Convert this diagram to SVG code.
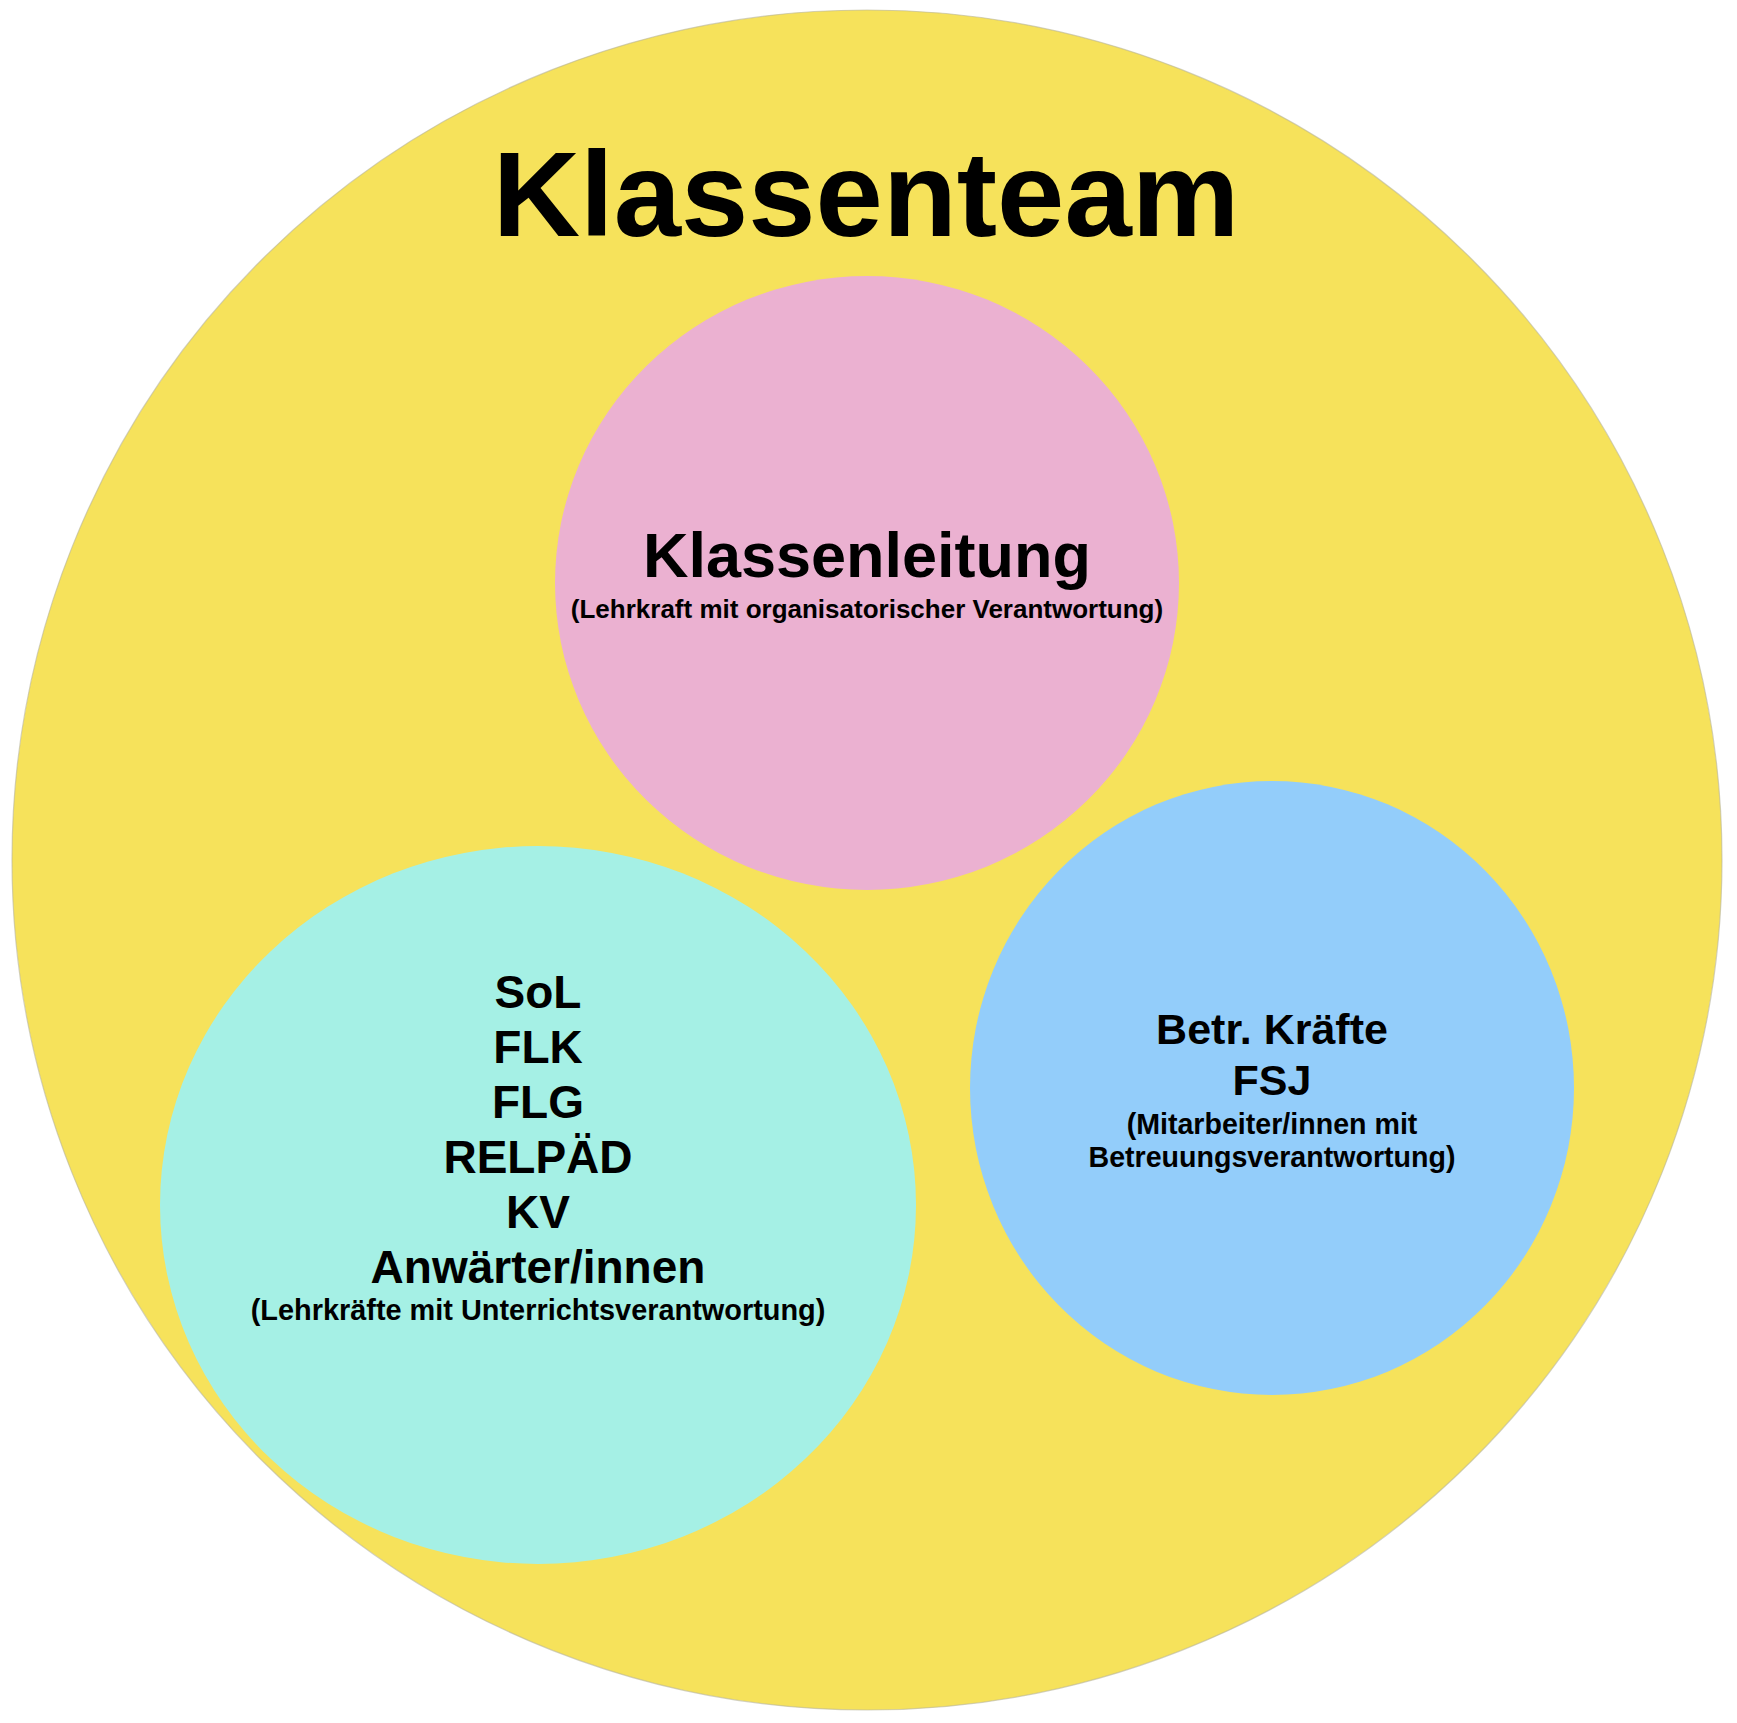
<svg xmlns="http://www.w3.org/2000/svg" width="1737" height="1723" viewBox="0 0 1737 1723">
  <style>
    text { font-family: "Liberation Sans", Arial, Helvetica, sans-serif; font-weight: bold; fill: #000; text-anchor: middle; }
    .team { font-size: 121px; }
    .lead { font-size: 63px; }
    .sub1 { font-size: 26px; }
    .mid { font-size: 46px; }
    .sub2 { font-size: 28.9px; }
    .blue { font-size: 43px; }
    .sub3 { font-size: 28.6px; }
  </style>
  <rect x="0" y="0" width="1737" height="1723" fill="#ffffff"/>
  <g id="klassenteam">
    <ellipse cx="867" cy="860" rx="855" ry="850" fill="#F6E25B" stroke="#b8b49a" stroke-width="1.2" stroke-opacity="0.6"/>
    <text class="team" x="866" y="236">Klassenteam</text>
  </g>
  <g id="klassenleitung">
    <ellipse cx="867" cy="583" rx="312" ry="307" fill="#EBB1D1"/>
    <text class="lead" x="867" y="577">Klassenleitung</text>
    <text class="sub1" x="867" y="618">(Lehrkraft mit organisatorischer Verantwortung)</text>
  </g>
  <g id="lehrkraefte">
    <ellipse cx="538" cy="1205" rx="378" ry="359" fill="#A5F0E5"/>
    <text class="mid" x="538" y="1008">SoL</text>
    <text class="mid" x="538" y="1063">FLK</text>
    <text class="mid" x="538" y="1118">FLG</text>
    <text class="mid" x="538" y="1173">RELPÄD</text>
    <text class="mid" x="538" y="1228">KV</text>
    <text class="mid" x="538" y="1283">Anwärter/innen</text>
    <text class="sub2" x="538" y="1320">(Lehrkräfte mit Unterrichtsverantwortung)</text>
  </g>
  <g id="betreuung">
    <ellipse cx="1272" cy="1088" rx="302" ry="307" fill="#93CDFA"/>
    <text class="blue" x="1272" y="1044">Betr. Kräfte</text>
    <text class="blue" x="1272" y="1095">FSJ</text>
    <text class="sub3" x="1272" y="1134">(Mitarbeiter/innen mit</text>
    <text class="sub3" x="1272" y="1167">Betreuungsverantwortung)</text>
  </g>
  <g id="connectors"/>
</svg>
